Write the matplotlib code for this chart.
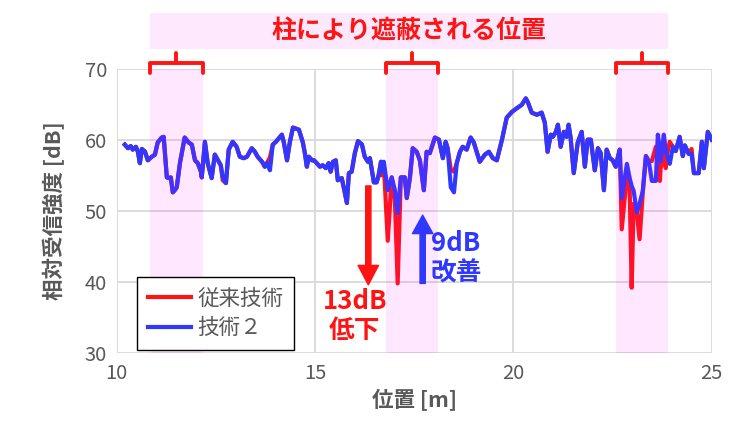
import matplotlib
matplotlib.use('Agg')
import matplotlib.pyplot as plt
import matplotlib.transforms as mtransforms
from matplotlib.patches import Rectangle

plt.rcParams['font.family'] = ['Noto Sans CJK JP', 'DejaVu Sans']

# position [m]
pos = [10.20, 10.28, 10.35, 10.40, 10.48, 10.53, 10.58, 10.63, 10.71, 10.78,
       10.88, 10.96, 11.03, 11.13, 11.18, 11.26, 11.31, 11.36, 11.41, 11.46,
       11.51, 11.59, 11.71, 11.81, 11.89, 11.97, 12.04, 12.12, 12.14, 12.22,
       12.29, 12.39, 12.47, 12.55, 12.62, 12.67, 12.75, 12.82, 12.92, 13.02,
       13.10, 13.20, 13.28, 13.40, 13.48, 13.55, 13.66, 13.73, 13.78, 13.86,
       13.93, 14.01, 14.16, 14.21, 14.29, 14.36, 14.44, 14.54, 14.59, 14.69,
       14.74, 14.79, 14.84, 14.92, 14.97, 15.04, 15.12, 15.19, 15.27, 15.34,
       15.39, 15.45, 15.52, 15.57, 15.67, 15.72, 15.80, 15.85, 15.92, 16.00,
       16.08, 16.18, 16.25, 16.33, 16.38, 16.43, 16.48, 16.55, 16.60, 16.66,
       16.68, 16.73, 16.83, 16.93, 17.01, 17.08, 17.16, 17.26, 17.31, 17.39,
       17.46, 17.56, 17.64, 17.74, 17.81, 17.89, 18.02, 18.12, 18.22, 18.29,
       18.34, 18.42, 18.50, 18.57, 18.65, 18.72, 18.82, 18.92, 19.00, 19.15,
       19.28, 19.38, 19.48, 19.58, 19.71, 19.83, 19.96, 20.08, 20.21, 20.31,
       20.36, 20.46, 20.59, 20.71, 20.79, 20.86, 20.94, 20.99, 21.07, 21.12,
       21.19, 21.27, 21.34, 21.39, 21.44, 21.52, 21.62, 21.72, 21.80, 21.87,
       21.95, 22.05, 22.13, 22.20, 22.28, 22.35, 22.43, 22.50, 22.58, 22.63,
       22.68, 22.73, 22.86, 22.93, 22.98, 23.03, 23.11, 23.18, 23.26, 23.34,
       23.41, 23.49, 23.59, 23.64, 23.69, 23.71, 23.79, 23.84, 23.86, 23.94,
       24.02, 24.09, 24.19, 24.27, 24.32, 24.42, 24.49, 24.55, 24.67, 24.75,
       24.80, 24.90, 25.00]

# 技術２ [dB]
tech2 = [59.3, 58.8, 59.1, 58.6, 59.0, 58.3, 56.7, 58.7, 58.3, 57.1,
         57.6, 57.9, 59.6, 60.3, 60.4, 54.7, 54.6, 54.7, 52.6, 52.9,
         53.3, 56.7, 60.3, 59.6, 59.3, 57.1, 56.7, 55.5, 54.7, 59.7,
         56.7, 54.6, 57.9, 57.1, 56.4, 54.7, 53.9, 58.6, 59.7, 59.0,
         57.6, 57.4, 57.6, 58.8, 58.3, 57.6, 56.9, 56.2, 56.7, 55.7,
         59.3, 59.7, 60.7, 59.6, 57.1, 59.6, 61.7, 61.5, 61.4, 59.6,
         58.1, 56.2, 57.6, 57.1, 57.1, 56.7, 56.2, 56.4, 56.0, 56.7,
         55.5, 56.9, 57.1, 54.3, 54.6, 53.3, 51.1, 55.3, 55.5, 58.1,
         59.8, 59.3, 57.6, 56.9, 57.4, 55.7, 54.0, 54.0, 55.0, 56.9,
         55.5, 56.9, 52.9, 54.7, 52.9, 49.7, 54.7, 54.7, 51.8, 54.7,
         58.8, 58.3, 57.1, 52.9, 58.3, 58.1, 60.3, 60.0, 57.4, 59.7,
         58.8, 53.3, 52.6, 56.7, 58.3, 59.0, 58.6, 60.3, 59.6, 56.9,
         57.9, 58.3, 57.4, 57.1, 60.0, 63.1, 63.9, 64.4, 64.9, 65.8,
         65.3, 63.8, 63.5, 63.8, 62.4, 58.3, 60.7, 60.4, 61.1, 62.1,
         59.0, 61.1, 60.4, 62.1, 60.3, 55.3, 59.6, 61.1, 56.2, 60.0,
         60.0, 55.7, 58.8, 58.1, 52.9, 58.6, 57.4, 57.1, 56.2, 57.5,
         58.6, 51.8, 56.6, 54.6, 53.5, 52.8, 49.8, 51.0, 52.8, 57.7,
         57.0, 54.2, 54.2, 60.7, 58.5, 57.0, 60.7, 58.5, 58.0, 56.6,
         59.0, 58.4, 60.4, 57.7, 59.2, 58.0, 58.0, 55.3, 55.3, 59.7,
         56.0, 61.1, 60.0]

# 従来技術 [dB]
conventional = [59.3, 58.8, 59.1, 58.6, 59.0, 58.3, 56.7, 58.7, 58.3, 57.1,
                57.6, 57.9, 59.6, 60.3, 60.4, 54.7, 54.6, 54.7, 52.6, 52.9,
                53.3, 56.7, 60.3, 59.6, 59.3, 57.1, 56.7, 55.5, 54.7, 59.7,
                56.7, 54.6, 57.9, 57.1, 56.4, 54.3, 53.9, 58.6, 59.7, 59.0,
                57.6, 57.4, 57.6, 58.8, 58.3, 57.6, 56.9, 56.2, 56.7, 57.5,
                59.3, 59.7, 60.7, 59.6, 57.1, 59.6, 61.7, 61.5, 61.4, 59.6,
                58.1, 56.2, 57.6, 57.1, 57.1, 56.7, 56.2, 56.4, 56.0, 56.7,
                55.5, 56.9, 57.1, 54.3, 54.6, 53.3, 51.1, 55.3, 55.5, 58.1,
                59.8, 59.3, 57.6, 56.9, 57.4, 55.7, 54.0, 54.0, 55.0, 56.9,
                55.0, 56.7, 45.8, 54.7, 51.5, 39.8, 54.7, 54.7, 51.8, 54.7,
                58.8, 58.3, 57.1, 52.9, 58.3, 58.1, 60.3, 60.0, 57.4, 59.7,
                58.8, 55.8, 55.5, 56.7, 58.3, 59.0, 58.6, 60.3, 59.6, 56.9,
                57.9, 58.3, 57.4, 57.1, 60.0, 63.1, 63.9, 64.4, 64.9, 65.8,
                65.3, 63.8, 63.5, 63.8, 62.4, 58.3, 60.7, 60.4, 61.1, 62.1,
                59.0, 61.1, 60.4, 62.1, 60.3, 55.3, 59.6, 61.1, 56.2, 60.0,
                60.0, 55.7, 58.8, 58.1, 52.9, 58.6, 57.4, 57.1, 56.2, 57.5,
                58.6, 47.4, 55.0, 53.0, 39.2, 51.0, 49.8, 46.0, 52.5, 57.7,
                57.0, 57.0, 59.0, 58.0, 54.2, 56.0, 58.5, 56.0, 57.5, 59.7,
                59.0, 58.4, 60.4, 57.7, 59.2, 58.0, 58.7, 55.3, 55.3, 59.7,
                56.0, 61.1, 60.0]

# shaded (blocked by pillars) ranges [m]
blocked = [(10.83, 12.17), (16.78, 18.09), (22.58, 23.89)]

gray = '#595959'
red = '#ff1414'
blue = '#3037ff'

fig = plt.figure(figsize=(7.54, 4.42), dpi=100)
ax = fig.add_axes([0.155, 0.201, 0.789, 0.644])

ax.plot(pos, conventional, color=red, lw=3.0, label='従来技術', zorder=2)
ax.plot(pos, tech2, color=blue, lw=3.0, label='技術２', zorder=2.1)

for a, b in blocked:
    ax.axvspan(a, b, color='#ff00ff', alpha=0.09, lw=0, zorder=3)

ax.set_xlim(10, 25)
ax.set_ylim(30, 70)
ax.set_xticks([10, 15, 20, 25])
ax.set_yticks([30, 40, 50, 60, 70])
ax.grid(True, color='#d9d9d9', lw=1.3)
ax.set_axisbelow(True)
for s in ax.spines.values():
    s.set_visible(False)
ax.tick_params(length=0, labelsize=14.5, labelcolor=gray, pad=7)
ax.set_xlabel('位置 [m]', fontsize=15.5, fontweight='bold', color=gray, labelpad=4)
ax.set_ylabel('相対受信強度 [dB]', fontsize=15.5, fontweight='bold', color=gray, labelpad=14)

# title band and brackets above the plot
trans = mtransforms.blended_transform_factory(ax.transData, ax.transAxes)
x0, x1 = blocked[0][0], blocked[-1][1]
ax.add_patch(Rectangle((x0, 1.068), x1 - x0, 0.126, transform=trans,
                       facecolor='#fde8fd', edgecolor='none', clip_on=False))
ax.text((x0 + x1) / 2, 1.131, '柱により遮蔽される位置', transform=trans,
        ha='center', va='center', fontsize=18, fontweight='bold', color=red)
for a, b in blocked:
    m = (a + b) / 2
    ax.plot([a, a, b, b], [0.985, 1.02, 1.02, 0.985], transform=trans,
            color=red, lw=2.8, clip_on=False, solid_capstyle='round',
            solid_joinstyle='round', zorder=4)
    ax.plot([m, m], [1.02, 1.055], transform=trans, color=red, lw=2.8,
            clip_on=False, solid_capstyle='round', zorder=4)

# arrows and notes
ax.annotate('', xy=(16.34, 39.6), xytext=(16.34, 53.5),
            arrowprops=dict(arrowstyle='simple,head_length=1.0,head_width=1.05,tail_width=0.27',
                            color=red, mutation_scale=14, shrinkA=0, shrinkB=0), zorder=5)
ax.annotate('', xy=(17.71, 49.4), xytext=(17.71, 39.8),
            arrowprops=dict(arrowstyle='simple,head_length=0.95,head_width=1.05,tail_width=0.27',
                            color=blue, mutation_scale=14, shrinkA=0, shrinkB=0), zorder=5)
ax.text(16.0, 35.2, '13dB\n低下', ha='center', va='center', fontsize=18.5,
        fontweight='bold', color=red, linespacing=1.1, zorder=5)
ax.text(18.55, 43.3, '9dB\n改善', ha='center', va='center', fontsize=18.5,
        fontweight='bold', color=blue, linespacing=1.1, zorder=5)

leg = ax.legend(loc='lower left', bbox_to_anchor=(0.034, 0.011), borderaxespad=0,
                fontsize=15.5, frameon=True, fancybox=False, edgecolor='black',
                framealpha=1, handlelength=2.0, handletextpad=0.3,
                borderpad=0.5, labelspacing=0.35)
leg.get_frame().set_linewidth(1.0)
leg.set_zorder(6)
for t in leg.get_texts():
    t.set_color(gray)

fig.savefig('out.png', dpi=100)
